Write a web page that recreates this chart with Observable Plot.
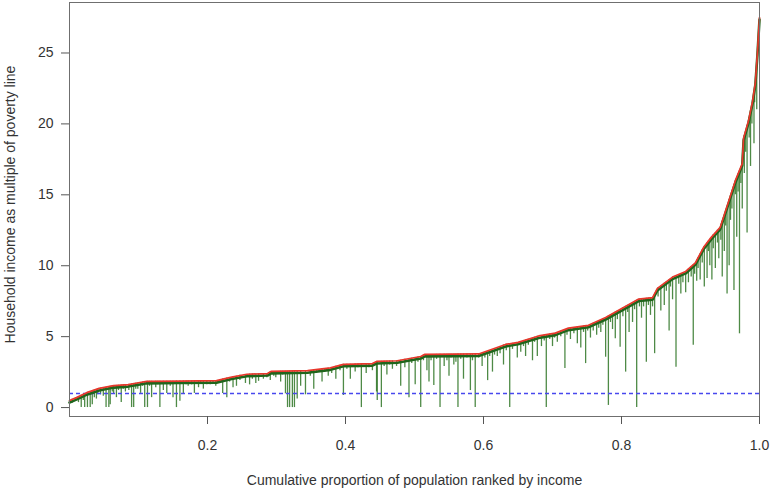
<!DOCTYPE html>
<html>
<head>
<meta charset="utf-8">
<script src="https://cdn.jsdelivr.net/npm/d3@7"></script>
<script src="https://cdn.jsdelivr.net/npm/@observablehq/plot@0.6"></script>
<style>
  html, body { margin: 0; padding: 0; background: #fff; }
  #chart { width: 771px; height: 489px; }
</style>
</head>
<body>
<div id="chart"></div>
<script>
// Income curve: cumulative proportion of population vs household income (multiple of poverty line)
const curveX = [0.000, 0.010, 0.025, 0.043, 0.064, 0.085, 0.100, 0.112, 0.160, 0.213, 0.235, 0.257, 0.287, 0.292, 0.345, 0.378, 0.397, 0.439, 0.445, 0.475, 0.509, 0.515, 0.593, 0.632, 0.650, 0.680, 0.704, 0.723, 0.752, 0.777, 0.801, 0.825, 0.845, 0.852, 0.874, 0.893, 0.907, 0.919, 0.930, 0.943, 0.955, 0.965, 0.975, 0.977, 0.984, 0.990, 0.994, 0.997, 1.000];
const curveY = [0.50, 0.70, 1.05, 1.35, 1.55, 1.62, 1.75, 1.85, 1.87, 1.90, 2.15, 2.35, 2.40, 2.55, 2.60, 2.80, 3.05, 3.10, 3.25, 3.30, 3.60, 3.75, 3.78, 4.45, 4.60, 5.05, 5.25, 5.60, 5.80, 6.35, 7.00, 7.65, 7.75, 8.40, 9.20, 9.60, 10.2, 11.3, 12.0, 12.7, 14.5, 16.0, 17.2, 19.0, 20.2, 21.6, 22.9, 25.0, 27.5];

// Long green drops: position, top (curve value) and bottom value
const dropX = [0.009, 0.013, 0.017, 0.022, 0.026, 0.030, 0.033, 0.036, 0.039, 0.045, 0.049, 0.053, 0.057, 0.059, 0.064, 0.068, 0.075, 0.081, 0.086, 0.090, 0.093, 0.099, 0.103, 0.109, 0.113, 0.119, 0.125, 0.131, 0.136, 0.141, 0.150, 0.155, 0.160, 0.165, 0.172, 0.181, 0.187, 0.194, 0.204, 0.212, 0.222, 0.228, 0.237, 0.242,
  0.255, 0.261, 0.270, 0.274, 0.281, 0.291, 0.299, 0.306, 0.313, 0.316, 0.319, 0.323, 0.326, 0.330, 0.335, 0.342, 0.354, 0.366, 0.375, 0.386, 0.397, 0.407, 0.414, 0.423, 0.430, 0.439, 0.445, 0.446, 0.452, 0.460, 0.468, 0.480, 0.486, 0.492, 0.501,
  0.509, 0.518, 0.521, 0.528, 0.537, 0.543, 0.550, 0.557, 0.563, 0.571, 0.581, 0.588, 0.598, 0.606, 0.613, 0.620, 0.629, 0.638, 0.649, 0.654, 0.661, 0.671, 0.678, 0.684, 0.691, 0.700, 0.707, 0.718, 0.726, 0.736, 0.741, 0.748, 0.755,
  0.764, 0.770, 0.777, 0.781, 0.787, 0.791, 0.798, 0.806, 0.811, 0.816, 0.822, 0.829, 0.836, 0.842, 0.848, 0.857, 0.862, 0.869, 0.874, 0.879, 0.886, 0.893, 0.897, 0.904, 0.909,
  0.914, 0.920, 0.924, 0.928, 0.931, 0.936, 0.941, 0.946, 0.949, 0.953, 0.956, 0.958, 0.963, 0.967, 0.971, 0.975, 0.978, 0.982, 0.987, 0.992, 0.996];
const dropTop = [0.68, 0.77, 0.86, 0.98, 1.07, 1.13, 1.18, 1.23, 1.28, 1.37, 1.40, 1.44, 1.48, 1.50, 1.55, 1.56, 1.59, 1.61, 1.63, 1.67, 1.69, 1.74, 1.77, 1.82, 1.85, 1.85, 1.85, 1.86, 1.86, 1.86, 1.86, 1.87, 1.87, 1.87, 1.88, 1.88, 1.88, 1.89, 1.89, 1.90, 2.02, 2.08, 2.17, 2.21,
  2.33, 2.36, 2.37, 2.38, 2.39, 2.52, 2.55, 2.56, 2.56, 2.56, 2.57, 2.57, 2.57, 2.58, 2.59, 2.60, 2.65, 2.73, 2.78, 2.91, 3.05, 3.06, 3.07, 3.08, 3.09, 3.10, 3.25, 3.25, 3.26, 3.27, 3.29, 3.34, 3.40, 3.45, 3.53,
  3.60, 3.75, 3.75, 3.75, 3.76, 3.76, 3.76, 3.76, 3.77, 3.77, 3.77, 3.78, 3.83, 3.92, 4.00, 4.08, 4.42, 4.50, 4.59, 4.66, 4.76, 4.91, 5.02, 5.08, 5.14, 5.22, 5.30, 5.50, 5.62, 5.69, 5.72, 5.77, 5.86,
  6.06, 6.20, 6.35, 6.46, 6.62, 6.73, 6.92, 7.14, 7.27, 7.40, 7.57, 7.67, 7.70, 7.73, 8.03, 8.58, 8.76, 9.02, 9.20, 9.31, 9.45, 9.60, 9.77, 10.05, 10.38,
  10.84, 11.36, 11.62, 11.87, 12.06, 12.30, 12.57, 13.10, 13.40, 14.15, 14.65, 14.95, 15.70, 16.24, 16.72, 17.2, 19.17, 19.86, 20.9, 22.25, 24.3];
const dropLow = [0.5, 0.35, 0.0, 0.0, 0.0, 0.0, 0.2, 0.7, 0.6, 0.9, 0.8, 0.0, 0.0, 0.2, 1.0, 0.7, 0.35, 1.1, 1.2, 0.0, 0.0, 1.3, 1.0, 0.0, 0.0, 0.7, 1.4, 0.0, 1.2, 1.0, 0.7, 0.0, 0.45, 1.0, 1.5, 1.0, 1.4, 1.3, 1.6, 1.5, 1.0, 0.7, 1.4, 1.5,
  1.7, 1.6, 1.7, 1.85, 2.0, 1.9, 2.1, 1.8, 0.97, 0.0, 0.0, 0.0, 0.0, 0.6, 1.5, 0.9, 1.3, 1.8, 2.2, 2.0, 0.85, 2.0, 2.5, 0.0, 2.4, 2.6, 1.1, 0.5, 0.0, 2.3, 2.7, 1.5, 2.8, 0.7, 1.6,
  0.0, 2.6, 1.8, 1.55, 0.0, 2.9, 2.2, 3.0, 0.0, 2.0, 1.2, 0.0, 2.9, 1.9, 2.5, 3.6, 3.0, 0.0, 3.5, 3.9, 3.6, 3.3, 3.6, 4.3, 0.0, 4.3, 4.6, 2.75, 4.8, 4.5, 4.2, 3.1, 4.9,
  5.1, 5.3, 3.55, 0.15, 5.5, 4.85, 4.25, 2.5, 5.3, 6.0, 0.0, 6.3, 3.2, 6.5, 3.8, 6.8, 7.2, 5.4, 7.6, 2.85, 8.0, 8.1, 8.8, 4.4, 8.9,
  9.0, 8.5, 9.1, 10.0, 9.0, 9.8, 10.5, 9.2, 11.0, 8.0, 10.0, 13.2, 8.25, 12.0, 5.2, 14.0, 16.5, 12.3, 17.0, 18.6, 21.0];

// Short green drops forming the fringe just under the curve
const minorX = [0.004, 0.020, 0.041, 0.062, 0.071, 0.078, 0.096, 0.106, 0.116, 0.128, 0.146, 0.169, 0.177, 0.190, 0.199, 0.208, 0.218, 0.232,
  0.247, 0.265, 0.286, 0.296, 0.309, 0.349, 0.358, 0.370, 0.380, 0.392, 0.402, 0.418, 0.434, 0.456, 0.464, 0.474, 0.496, 0.505, 0.513, 0.524, 0.532, 0.547, 0.553, 0.560, 0.567, 0.576, 0.584, 0.593,
  0.602, 0.609, 0.616, 0.624, 0.633, 0.642, 0.658, 0.665, 0.674, 0.688, 0.696, 0.703, 0.712, 0.721, 0.731, 0.745, 0.751, 0.759, 0.767, 0.773, 0.784, 0.794, 0.802, 0.809, 0.819, 0.826, 0.832, 0.839, 0.845,
  0.853, 0.865, 0.871, 0.883, 0.889, 0.901, 0.906, 0.911, 0.917, 0.926, 0.933, 0.939, 0.944, 0.951, 0.960, 0.965, 0.969, 0.973, 0.980, 0.985, 0.989, 0.993];
const minorTop = [0.58, 0.93, 1.32, 1.53, 1.57, 1.60, 1.72, 1.80, 1.85, 1.86, 1.86, 1.87, 1.88, 1.88, 1.89, 1.89, 1.96, 2.12,
  2.27, 2.36, 2.40, 2.55, 2.56, 2.62, 2.68, 2.76, 2.83, 2.98, 3.05, 3.07, 3.09, 3.26, 3.28, 3.30, 3.48, 3.56, 3.70, 3.75, 3.75, 3.76, 3.76, 3.76, 3.77, 3.77, 3.78, 3.78,
  3.87, 3.95, 4.03, 4.23, 4.46, 4.53, 4.72, 4.82, 4.96, 5.12, 5.18, 5.24, 5.40, 5.56, 5.65, 5.75, 5.79, 5.95, 6.13, 6.26, 6.54, 6.81, 7.03, 7.22, 7.49, 7.65, 7.68, 7.72, 7.75,
  8.44, 8.87, 9.09, 9.39, 9.52, 9.94, 10.15, 10.57, 11.12, 11.75, 12.2, 12.5, 12.85, 13.9, 15.25, 16.0, 16.48, 16.96, 19.5, 20.43, 21.37, 22.58];
const minorLow = [0.3, 0.5, 0.9, 1.1, 1.2, 1.3, 1.3, 1.5, 1.5, 1.6, 1.5, 1.6, 1.6, 1.7, 1.6, 1.7, 1.7, 1.8,
  1.9, 2.0, 2.1, 2.2, 2.3, 2.2, 2.4, 2.5, 2.4, 2.6, 2.7, 2.8, 2.8, 2.9, 3.0, 2.9, 3.1, 3.2, 3.3, 3.3, 3.4, 3.3, 3.5, 3.2, 3.4, 3.5, 3.3, 3.5,
  3.5, 3.6, 3.7, 3.8, 4.0, 4.1, 4.3, 4.4, 4.6, 4.7, 4.8, 4.9, 5.0, 5.1, 5.2, 5.3, 5.4, 5.4, 5.6, 5.8, 6.0, 6.2, 6.4, 6.7, 6.9, 7.1, 7.1, 7.2, 7.1,
  7.8, 8.2, 8.5, 8.7, 8.8, 9.2, 9.4, 9.8, 10.2, 11.0, 11.2, 11.6, 11.8, 12.8, 14.0, 15.0, 15.2, 15.8, 18.0, 19.0, 20.0, 21.5];

const povertyLine = 1;
const xTicks = [0.2, 0.4, 0.6, 0.8, 1.0];
const yTicks = [0, 5, 10, 15, 20, 25];
const xLabel = "Cumulative proportion of population ranked by income";
const yLabel = "Household income as multiple of poverty line";

const curve = curveX.map((x, i) => ({x, y: curveY[i]}));
const drops = dropX.map((x, i) => ({x, top: dropTop[i], low: dropLow[i]}))
  .concat(minorX.map((x, i) => ({x, top: minorTop[i], low: minorLow[i]})));

const font = "'Liberation Sans', Arial, sans-serif";

const chart = Plot.plot({
  width: 771,
  height: 489,
  marginLeft: 69,
  marginRight: 12,
  marginTop: 2,
  marginBottom: 73,
  style: {fontFamily: font, fontSize: "14px", color: "#333", background: "#fff"},
  x: {domain: [0, 1]},
  y: {domain: [-0.63, 28.56]},
  marks: [
    Plot.ruleX(drops, {x: "x", y1: "low", y2: "top", stroke: "#2f7526", strokeOpacity: 0.85, strokeWidth: 1.3}),
    Plot.ruleY([povertyLine], {stroke: "#4848ee", strokeWidth: 1.5, strokeDasharray: "4,3"}),
    Plot.line(curve, {x: "x", y: "y", stroke: "#1f651c", strokeWidth: 2.6, dy: 2}),
    Plot.line(curve, {x: "x", y: "y", stroke: "#e8372c", strokeWidth: 1.7}),
    Plot.frame({stroke: "#6f6f6f", strokeWidth: 1}),
    Plot.axisX({ticks: xTicks, tickFormat: d3.format(".1f"), tickSize: 8, tickPadding: 16, stroke: "#555",
      fontSize: 14, label: xLabel, labelAnchor: "center", labelArrow: "none", labelOffset: 68}),
    Plot.axisY({ticks: yTicks, tickSize: 8, tickPadding: 8, stroke: "#555", fontSize: 14, label: null}),
    Plot.text([yLabel], {frameAnchor: "left", textAnchor: "middle", rotate: -90, dx: -59, dy: -5, fontSize: 14, fill: "#333"})
  ]
});
document.getElementById("chart").appendChild(chart);
</script>
</body>
</html>
